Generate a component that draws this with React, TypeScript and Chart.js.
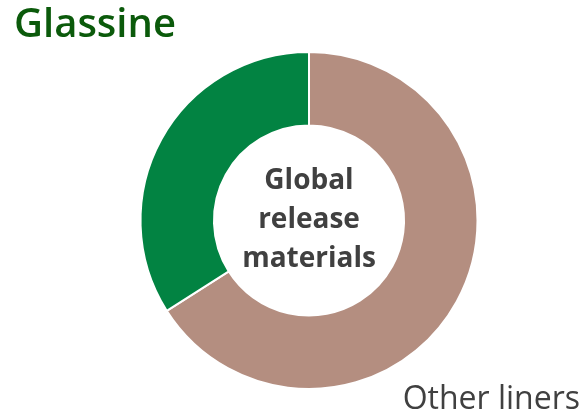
import React, { useEffect, useRef } from "react";
import { Chart, registerables } from "chart.js";

Chart.register(...registerables);

const categories = ["Other liners", "Glassine"];
const shares = [66, 34];
const colors = ["#B48E80", "#028342"];
const centerLines = ["Global", "release", "materials"];

const FONT = "'Open Sans', 'Noto Sans', sans-serif";

const textPlugin = {
  id: "texts",
  afterDraw(chart: any) {
    const ctx = chart.ctx;
    const meta = chart.getDatasetMeta(0);
    const arc = meta.data[0];
    const cx = arc.x;
    const cy = arc.y;
    ctx.save();
    ctx.fillStyle = "#404040";
    ctx.font = `bold 28px ${FONT}`;
    ctx.textAlign = "center";
    ctx.textBaseline = "alphabetic";
    const lh = 39;
    centerLines.forEach((t, i) => {
      ctx.fillText(t, cx, cy - 32 + i * lh);
    });
    ctx.fillStyle = "#0B5A0B";
    ctx.font = `600 40px ${FONT}`;
    ctx.textAlign = "left";
    ctx.fillText(categories[1], 14, 37);
    ctx.fillStyle = "#404040";
    ctx.font = `normal 32px ${FONT}`;
    ctx.textAlign = "right";
    ctx.fillText(categories[0], 580, 409);
    ctx.restore();
  },
};

export default function App() {
  const ref = useRef<HTMLCanvasElement>(null);
  useEffect(() => {
    document.body.style.margin = "0";
    const chart = new Chart(ref.current!, {
      type: "doughnut",
      data: {
        labels: categories,
        datasets: [
          {
            data: shares,
            backgroundColor: colors,
            borderColor: "#ffffff",
            borderWidth: 2,
          },
        ],
      },
      options: {
        responsive: false,
        animation: false,
        cutout: "56.4%",
        layout: { padding: { left: 139.5, right: 105.5, top: 51, bottom: 25 } },
        plugins: {
          legend: { display: false },
          tooltip: { enabled: false },
        },
      },
      plugins: [textPlugin],
    });
    return () => chart.destroy();
  }, []);
  return (
    <div style={{ width: 584, height: 415 }}>
      <canvas ref={ref} width={584} height={415} />
    </div>
  );
}
